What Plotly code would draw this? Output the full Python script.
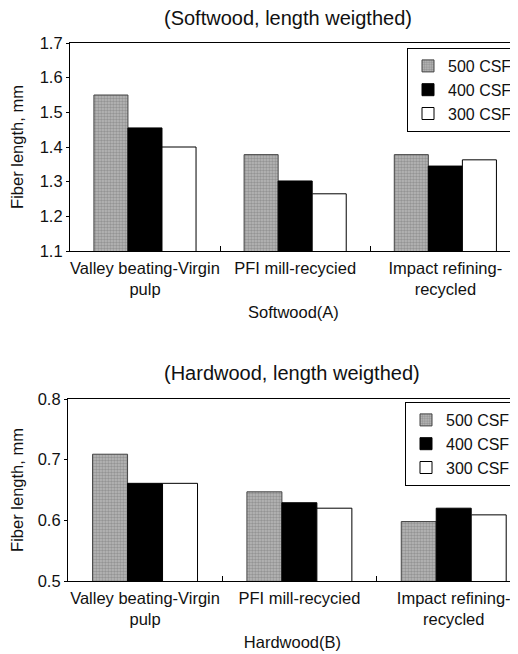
import plotly.graph_objects as go

categories = ["Valley beating-Virgin<br>pulp", "PFI mill-recycied", "Impact refining-<br>recycled"]
series_names = ["500 CSF", "400 CSF", "300 CSF"]

soft_500 = [1.55, 1.378, 1.378]
soft_400 = [1.455, 1.302, 1.345]
soft_300 = [1.40, 1.265, 1.363]

hard_500 = [0.709, 0.647, 0.598]
hard_400 = [0.661, 0.629, 0.620]
hard_300 = [0.661, 0.620, 0.609]

FONT = "Liberation Sans, Arial, Helvetica, sans-serif"
# page body has an 8px margin, so the figure is sized to the visible area
OFF = 8
W, H = 518 - OFF, 654 - OFF


def px(x):
    return (x - OFF) / W


def py(y):
    return 1 - (y - OFF) / H


styles = [
    dict(color="#aaaaaa", line=dict(color="#444", width=1),
         pattern=dict(shape=".", size=3, solidity=0.5, fgcolor="#6e6e6e", bgcolor="#b9b9b9")),
    dict(color="#000000", line=dict(color="#000", width=1)),
    dict(color="#ffffff", line=dict(color="#000", width=1)),
]

fig = go.Figure()
for name, vals, st in zip(series_names, [soft_500, soft_400, soft_300], styles):
    fig.add_trace(go.Bar(x=categories, y=vals, name=name, marker=st,
                         xaxis="x", yaxis="y", legend="legend"))
for name, vals, st in zip(series_names, [hard_500, hard_400, hard_300], styles):
    fig.add_trace(go.Bar(x=categories, y=vals, name=name, marker=st,
                         xaxis="x2", yaxis="y2", legend="legend2"))

axfont = dict(family=FONT, size=16.5, color="#111")
xcommon = dict(type="category", showline=True, linecolor="#000", linewidth=1, mirror=True,
               ticks="inside", tickson="boundaries", ticklen=5, tickcolor="#000",
               tickangle=0, ticklabelstandoff=2,
               showgrid=False, tickfont=axfont, automargin=False, zeroline=False)
ycommon = dict(showline=True, linecolor="#000", linewidth=1, ticks="outside", ticklen=3,
               tickcolor="#000", showgrid=False, tickfont=axfont, dtick=0.1,
               automargin=False, zeroline=False)

legfont = dict(family=FONT, size=16, color="#111")

fig.update_layout(
    width=W, height=H,
    margin=dict(l=0, r=0, t=0, b=0),
    paper_bgcolor="white", plot_bgcolor="white",
    barmode="group", bargap=0.32, bargroupgap=0,
    font=dict(family=FONT, size=16, color="#111"),
    xaxis=dict(**xcommon, domain=[px(70), 1], anchor="y", range=[-0.5, 2.477],
               title=dict(text="Softwood(A)", font=axfont, standoff=9)),
    yaxis=dict(**ycommon, domain=[py(251), py(43)], anchor="x", range=[1.1, 1.7],
               tickformat=".1f",
               title=dict(text="Fiber length, mm", font=axfont, standoff=14)),
    xaxis2=dict(**xcommon, domain=[px(68), 1], anchor="y2", range=[-0.5, 2.41],
                title=dict(text="Hardwood(B)", font=axfont, standoff=9)),
    yaxis2=dict(**ycommon, domain=[py(581), py(399)], anchor="x2", range=[0.5, 0.8],
                tickformat=".1f",
                title=dict(text="Fiber length, mm", font=axfont, standoff=14)),
    legend=dict(x=px(408), xanchor="left", y=py(48), yanchor="top",
                bordercolor="#000", borderwidth=1, bgcolor="white",
                font=legfont, itemwidth=30, tracegroupgap=0),
    legend2=dict(x=px(405), xanchor="left", y=py(402), yanchor="top",
                 bordercolor="#000", borderwidth=1, bgcolor="white",
                 font=legfont, itemwidth=30, tracegroupgap=0),
    annotations=[
        dict(text="(Softwood, length weigthed)", x=px(289), y=py(18), xref="paper", yref="paper",
             showarrow=False, font=dict(family=FONT, size=20, color="#111"),
             xanchor="center", yanchor="middle"),
        dict(text="(Hardwood, length weigthed)", x=px(293), y=py(373), xref="paper", yref="paper",
             showarrow=False, font=dict(family=FONT, size=20, color="#111"),
             xanchor="center", yanchor="middle"),
    ],
)

fig.write_html("out.html")
